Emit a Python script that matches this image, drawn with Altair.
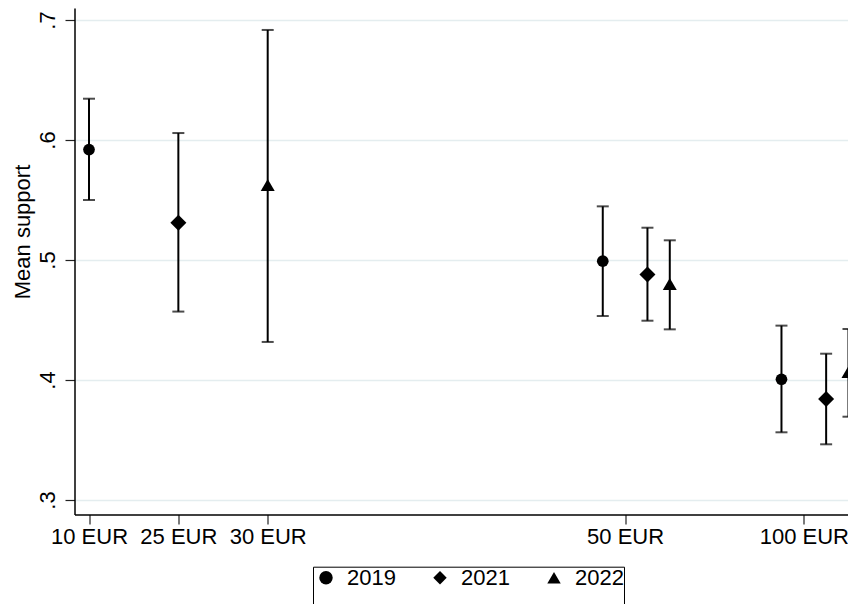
import altair as alt
import pandas as pd

# ---- data ----
years = ["2019", "2021", "2022"]
tick_positions = [1, 2, 3, 7, 9]
tick_labels = ["10 EUR", "25 EUR", "30 EUR", "50 EUR", "100 EUR"]
y_ticks = [0.3, 0.4, 0.5, 0.6, 0.7]
y_tick_labels = [".3", ".4", ".5", ".6", ".7"]

x_2019 = [1, 6.75, 8.75]
mean_2019 = [0.592, 0.499, 0.4006]
lo_2019 = [0.550, 0.4533, 0.3564]
hi_2019 = [0.6344, 0.5447, 0.4453]

x_2021 = [2, 7.25, 9.25]
mean_2021 = [0.531, 0.488, 0.3842]
lo_2021 = [0.457, 0.4494, 0.3464]
hi_2021 = [0.6058, 0.5269, 0.4219]

x_2022 = [3, 7.5, 9.5]
mean_2022 = [0.5625, 0.480, 0.4067]
lo_2022 = [0.4317, 0.4422, 0.3694]
hi_2022 = [0.6917, 0.5164, 0.4425]

rows = []
for yr, xs, ms, los, his in [
    ("2019", x_2019, mean_2019, lo_2019, hi_2019),
    ("2021", x_2021, mean_2021, lo_2021, hi_2021),
    ("2022", x_2022, mean_2022, lo_2022, hi_2022),
]:
    for xv, m, lo, hi in zip(xs, ms, los, his):
        rows.append({"year": yr, "x": xv, "mean": m, "lo": lo, "hi": hi})
df = pd.DataFrame(rows)

FONT = "Arial, Liberation Sans, sans-serif"
FS = 22

x_label_expr = " : ".join(
    f"datum.value == {p} ? '{l}'" for p, l in zip(tick_positions, tick_labels)
) + " : ''"
y_label_expr = " : ".join(
    f"abs(datum.value - {v}) < 0.001 ? '{l}'" for v, l in zip(y_ticks, y_tick_labels)
) + " : ''"

x_enc = alt.X(
    "x:Q",
    scale=alt.Scale(domain=[0.8377, 9.4946], nice=False, zero=False),
    axis=alt.Axis(
        values=tick_positions, labelExpr=x_label_expr, title=None, grid=False,
        tickSize=9.5, labelPadding=19, labelBaseline="alphabetic",
        labelFontSize=FS, labelFont=FONT, labelColor="black",
        domainColor="black", domainWidth=1.5, tickColor="#222222", tickWidth=1.2,
        labelFlush=False, labelOverlap=False,
    ),
)
y_scale = alt.Scale(domain=[0.2879, 0.71], nice=False, zero=False)
y_axis = alt.Axis(
    values=y_ticks, labelExpr=y_label_expr, title="Mean support",
    grid=True, gridColor="#E4EDEF", gridWidth=1.5,
    tickSize=9.5, labelPadding=11, labelAngle=270, labelAlign="center",
    labelBaseline="alphabetic", labelFontSize=FS, labelFont=FONT, labelColor="black",
    domainColor="black", domainWidth=1.5, tickColor="#222222", tickWidth=1.2,
    titleFontSize=FS, titleFont=FONT, titleFontWeight="normal", titleColor="black",
    titleAngle=270, titleAlign="center", titleBaseline="alphabetic",
    titleX=-45, titleY=223.5, labelFlush=False, labelOverlap=False,
)

base = alt.Chart(df)

rules = base.mark_rule(color="black", strokeWidth=2).encode(
    x=x_enc, y=alt.Y("lo:Q", scale=y_scale, axis=y_axis), y2="hi:Q"
)
caps_lo = base.mark_tick(color="black", thickness=2, size=12, orient="horizontal").encode(
    x="x:Q", y="lo:Q"
)
caps_hi = base.mark_tick(color="black", thickness=2, size=12, orient="horizontal").encode(
    x="x:Q", y="hi:Q"
)
points = base.mark_point(filled=True, color="black", opacity=1, strokeWidth=0).encode(
    x="x:Q",
    y="mean:Q",
    shape=alt.Shape(
        "year:N",
        scale=alt.Scale(domain=years, range=["circle", "diamond", "triangle-up"]),
        legend=alt.Legend(
            orient="none", legendX=238.5, legendY=558.7, direction="horizontal",
            title=" ", titleOrient="bottom", titleFontSize=30, titlePadding=0,
            strokeColor="black", padding=0, symbolOffset=2, labelOffset=10,
            columnPadding=31, symbolSize=180, symbolFillColor="black",
            symbolStrokeWidth=0, labelFontSize=FS, labelFont=FONT, labelColor="black",
            labelExpr="datum.label == '2022' ? '2022  ' : datum.label",
        ),
    ),
    size=alt.SizeValue(
        196,
        condition=[
            {"test": "datum.year == '2019'", "value": 137},
            {"test": "datum.year == '2021'", "value": 256},
        ],
    ),
)

chart = (
    alt.layer(rules, caps_lo, caps_hi, points)
    .properties(
        width=773.5,
        height=506.5,
        autosize=alt.AutoSizeParams(type="none"),
        padding={"left": 66.5, "top": 0, "right": 0, "bottom": 89.5},
        background="white",
    )
    .configure_view(stroke=None)
)

chart.save("out.html", embed_options={"renderer": "svg", "actions": False})
